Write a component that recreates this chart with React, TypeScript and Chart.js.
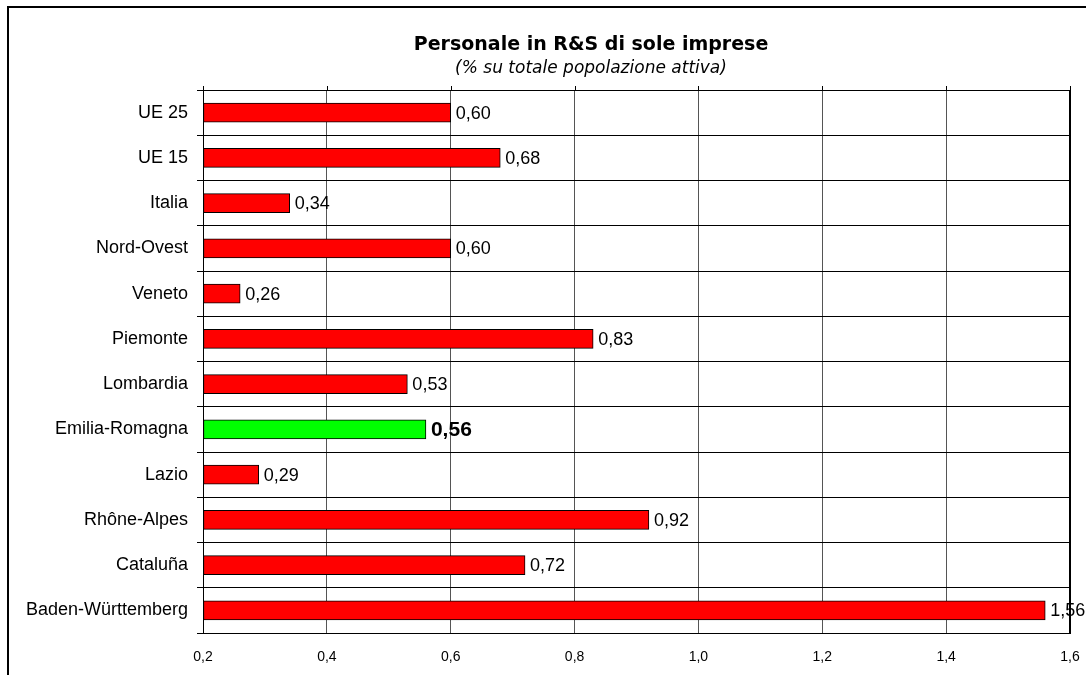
import React, { useEffect, useRef } from "react";
import { Chart, registerables } from "chart.js";

Chart.register(...registerables);

const categories = [
  "UE 25",
  "UE 15",
  "Italia",
  "Nord-Ovest",
  "Veneto",
  "Piemonte",
  "Lombardia",
  "Emilia-Romagna",
  "Lazio",
  "Rhône-Alpes",
  "Cataluña",
  "Baden-Württemberg",
];
const values = [0.6, 0.68, 0.34, 0.6, 0.26, 0.83, 0.53, 0.56, 0.29, 0.92, 0.72, 1.56];
const highlighted = "Emilia-Romagna";
const titleText = "Personale in R&S di sole imprese";
const subtitleText = "(% su totale popolazione attiva)";
const xMin = 0.2;
const xMax = 1.6;
const xStep = 0.2;

const fmt = (v: number, d: number) => v.toFixed(d).replace(".", ",");

const W = 1086;
const H = 675;

export default function App() {
  const ref = useRef<HTMLCanvasElement | null>(null);

  useEffect(() => {
    if (!ref.current) return;
    const decorPlugin = {
      id: "decor",
      beforeDraw(chart: any) {
        const ctx = chart.ctx;
        ctx.save();
        ctx.fillStyle = "#ffffff";
        ctx.fillRect(0, 0, W, H);
        ctx.strokeStyle = "#000";
        ctx.lineWidth = 2;
        ctx.beginPath();
        ctx.moveTo(8, H + 5);
        ctx.lineTo(8, 7);
        ctx.lineTo(W + 5, 7);
        ctx.stroke();
        ctx.restore();
      },
      afterDraw(chart: any) {
        const ctx = chart.ctx;
        const area = chart.chartArea;
        const xs = chart.scales.x;
        ctx.save();
        // title
        ctx.fillStyle = "#000";
        ctx.textAlign = "center";
        ctx.textBaseline = "alphabetic";
        ctx.font = "bold 19px 'DejaVu Sans'";
        ctx.fillText(titleText, 591, 50);
        ctx.font = "italic 17px 'DejaVu Sans'";
        ctx.fillText(subtitleText, 591, 73);
        // top tick marks
        ctx.strokeStyle = "#000";
        ctx.lineWidth = 1;
        for (let v = xMin; v <= xMax + 1e-9; v += xStep) {
          const px = Math.round(xs.getPixelForValue(v)) + 0.5;
          ctx.beginPath();
          ctx.moveTo(px, area.top - 4);
          ctx.lineTo(px, area.top);
          ctx.stroke();
        }
        // right border
        ctx.lineWidth = 2;
        ctx.beginPath();
        ctx.moveTo(area.right, area.top);
        ctx.lineTo(area.right, area.bottom);
        ctx.stroke();
        // data labels
        const meta = chart.getDatasetMeta(0);
        ctx.textAlign = "left";
        ctx.textBaseline = "middle";
        meta.data.forEach((bar: any, i: number) => {
          const isHi = categories[i] === highlighted;
          ctx.font = isHi ? "bold 21px 'Liberation Sans', Arial" : "18px 'Liberation Sans', Arial";
          ctx.fillText(fmt(values[i], 2), bar.x + 5, bar.y + 1);
        });
        ctx.restore();
      },
    };

    const chart = new Chart(ref.current, {
      type: "bar",
      data: {
        labels: categories,
        datasets: [
          {
            data: values,
            base: xMin,
            backgroundColor: categories.map((c) => (c === highlighted ? "#00ff00" : "#ff0000")),
            borderColor: "#000",
            borderWidth: 1,
            borderSkipped: false,
            barThickness: 19,
          } as any,
        ],
      },
      options: {
        indexAxis: "y",
        animation: false,
        responsive: false,
        maintainAspectRatio: false,
        layout: { padding: { top: 90, right: 16, bottom: 0, left: 0 } },
        plugins: {
          legend: { display: false },
          title: { display: false },
          tooltip: { enabled: false },
        },
        scales: {
          x: {
            type: "linear",
            min: xMin,
            max: xMax,
            afterFit: (s: any) => {
              s.height = 42;
              s.paddingLeft = 0;
              s.paddingRight = 0;
            },
            ticks: {
              stepSize: xStep,
              padding: 16,
              color: "#000",
              font: { family: "'Liberation Sans', Arial", size: 14 },
              callback: (v: any) => fmt(Number(v), 1),
            },
            grid: { color: "#555", lineWidth: 1, drawTicks: false },
            border: { color: "#000", width: 1 },
          },
          y: {
            type: "category",
            afterFit: (s: any) => {
              s.width = 203;
              s.paddingTop = 0;
              s.paddingBottom = 0;
            },
            ticks: {
              padding: 9,
              color: "#000",
              font: { family: "'Liberation Sans', Arial", size: 18 },
            },
            grid: { color: "#000", lineWidth: 1, offset: true, drawTicks: true, tickLength: 6 },
            border: { color: "#000", width: 1 },
          },
        },
      },
      plugins: [decorPlugin],
    });
    return () => chart.destroy();
  }, []);

  return (
    <div style={{ position: "absolute", left: 0, top: 0, width: W, height: H, background: "#fff" }}>
      <canvas ref={ref} width={W} height={H} style={{ display: "block", width: W, height: H }} />
    </div>
  );
}
